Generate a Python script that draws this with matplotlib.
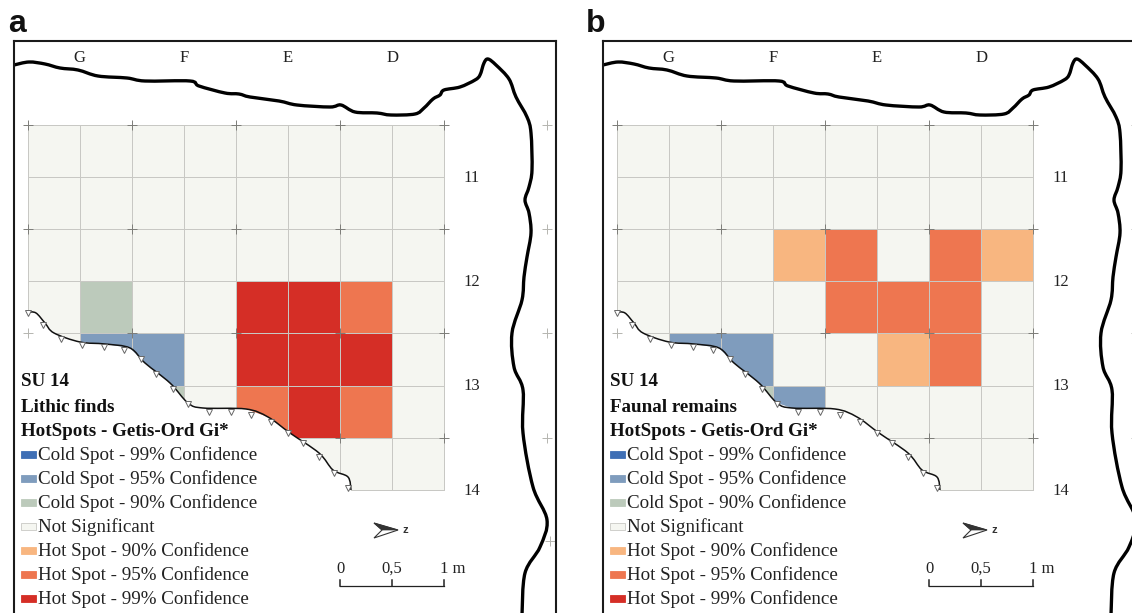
import matplotlib
matplotlib.use('Agg')
import numpy as np
import matplotlib.pyplot as plt
from matplotlib.colors import ListedColormap, BoundaryNorm
from matplotlib.patches import Polygon, Rectangle, PathPatch
from matplotlib.path import Path

# -3..3 : cold 99/95/90, not significant, hot 90/95/99
lithic = [
    [0, 0, 0, 0, 0, 0, 0, 0],
    [0, 0, 0, 0, 0, 0, 0, 0],
    [0, 0, 0, 0, 0, 0, 0, 0],
    [0, -1, 0, 0, 3, 3, 2, 0],
    [0, -2, -2, 0, 3, 3, 3, 0],
    [0, 0, -1, 0, 2, 3, 2, 0],
    [0, 0, 0, 0, 0, 0, 0, 0],
]
faunal = [
    [0, 0, 0, 0, 0, 0, 0, 0],
    [0, 0, 0, 0, 0, 0, 0, 0],
    [0, 0, 0, 1, 2, 0, 2, 1],
    [0, 0, 0, 0, 2, 2, 2, 0],
    [0, -2, -2, 0, 0, 1, 2, 0],
    [0, 0, -1, -2, 0, 0, 0, 0],
    [0, 0, 0, 0, 0, 0, 0, 0],
]
levels = [-3, -2, -1, 0, 1, 2, 3]
level_colors = ['#3f6fb5', '#7f9cbd', '#bccabb', '#f5f6f1', '#f8b680', '#ee7650', '#d52e26']
legend_labels = ['Cold Spot - 99% Confidence', 'Cold Spot - 95% Confidence', 'Cold Spot - 90% Confidence',
                 'Not Significant', 'Hot Spot - 90% Confidence', 'Hot Spot - 95% Confidence',
                 'Hot Spot - 99% Confidence']
col_labels = ['G', 'F', 'E', 'D']
row_labels = ['11', '12', '13', '14']

# outlines (panel px)
wall = [(14, 65), (29, 62), (45, 64), (60, 68), (78, 70), (98, 76), (127, 78), (145, 81), (190, 81), (199, 86),
        (225, 93), (239, 94), (250, 97), (279, 101), (297, 105), (330, 107), (341, 105), (355, 112), (377, 113),
        (391, 115), (415, 114), (424, 108), (433, 99), (440, 95), (444, 90), (460, 87), (475, 80), (480, 75),
        (484, 63), (488, 59), (496, 65), (509, 79), (516, 97), (527, 117), (531, 133), (532, 170), (529, 187),
        (525, 200), (529, 213), (531, 233), (527, 257), (524, 277), (522, 300), (512, 333), (514, 367), (523, 390),
        (523, 433), (533, 487), (547, 520), (540, 547), (525, 573), (522, 615)]
scarp = [(28, 312), (36, 313), (45, 323), (54, 333), (80, 342), (105, 344), (130, 348), (145, 363), (170, 383),
         (188, 403), (203, 408), (246, 409), (268, 417), (290, 433), (319, 453), (333, 470), (348, 477), (351, 490)]
scarp_ticks = [(28, 313), (43, 325), (61, 339), (82, 345), (104, 347), (124, 350), (141, 359), (156, 374),
               (173, 389), (188, 404), (209, 412), (231, 412), (251, 415), (271, 422), (288, 433), (303, 443),
               (319, 457), (334, 473), (348, 488)]

x0, y0, cell = 27.5, 125.0, 52.1
W, H = 1132, 613
SERIF = 'Liberation Serif'
CROSS = dict(marker='+', linestyle='none', ms=7, mew=0.7)


def smooth_path(pts):
    # catmull-rom through the traced points, as bezier segments
    p = np.array(pts, dtype=float)
    p = np.vstack([p[0], p, p[-1]])
    verts = [p[1]]
    codes = [Path.MOVETO]
    for i in range(1, len(p) - 2):
        verts += [p[i] + (p[i + 1] - p[i - 1]) / 6, p[i + 1] - (p[i + 2] - p[i]) / 6, p[i + 1]]
        codes += [Path.CURVE4] * 3
    return Path(verts, codes)


def draw_panel(ax, grid, name):
    ax.set_xlim(14, 556)
    ax.set_ylim(620, 41)
    ax.set_xticks([])
    ax.set_yticks([])
    for s in ax.spines.values():
        s.set_linewidth(1.5)
        s.set_color('#1a1a1a')

    xs = x0 + cell * np.arange(9)
    ys = y0 + cell * np.arange(8)
    cmap = ListedColormap(level_colors)
    norm = BoundaryNorm(np.arange(-3.5, 4.5), cmap.N)
    mesh = ax.pcolormesh(xs, ys, np.array(grid), cmap=cmap, norm=norm, edgecolors='#c8c8c4', linewidth=0.7)
    # grid stops at the scarp
    clip = Polygon(scarp + [(351, 640), (600, 640), (600, 0), (0, 0), (0, 312)], transform=ax.transData)
    mesh.set_clip_path(clip)

    # survey crosses
    cx = xs[::2]
    for yy in ys[::2][:2]:
        ax.plot(cx, [yy] * len(cx), color='#7c7c78', **CROSS)
    ax.plot(cx[1:], [ys[4]] * 4, color='#7c7c78', **CROSS)
    ax.plot(cx[:1], [ys[4]], color='#b5b5b0', **CROSS)
    ax.plot(cx[3:], [ys[6]] * 2, color='#7c7c78', **CROSS)
    ax.plot([547] * 4 + [550], list(ys[::2]) + [541], color='#b5b5b0', **CROSS)

    ax.add_patch(PathPatch(smooth_path(wall), facecolor='none', edgecolor='black', lw=2.4, joinstyle='round'))
    ax.add_patch(PathPatch(smooth_path(scarp), facecolor='none', edgecolor='#111111', lw=1.1))
    ax.plot(*zip(*scarp_ticks), linestyle='none', marker='v', ms=3.8, mfc='white', mec='#666666', mew=0.7)

    for i, lab in enumerate(col_labels):
        ax.text(xs[1] + 2 * i * cell, 58, lab, family=SERIF, fontsize=12, ha='center', va='center', color='#222222')
    for lab, yy in zip(row_labels, ys[[1, 3, 5, 7]]):
        ax.text(471.5, yy + 1, lab, family=SERIF, fontsize=12, ha='center', va='center', color='#222222')

    for yy, txt in zip([381, 407, 431], ['SU 14', name, 'HotSpots - Getis-Ord Gi*']):
        ax.text(21, yy + 1, txt, family=SERIF, fontsize=13.7, weight='bold', va='center', color='#111111')
    for i, (lev, col, lab) in enumerate(zip(levels, level_colors, legend_labels)):
        yy = 454 + i * 24
        ax.add_patch(Rectangle((21, yy - 3.5), 14.5, 7, facecolor=col, edgecolor='#c8c8c4' if lev == 0 else col, lw=0.6))
        ax.text(38, yy + 1.5, lab, family=SERIF, fontsize=13.7, va='center', color='#222222')

    # north arrow
    ax.add_patch(Polygon([(374, 523), (398, 530), (374, 538), (382, 530)], facecolor='white', edgecolor='#333333', lw=0.8))
    ax.add_patch(Polygon([(374, 523), (398, 530), (382, 530)], facecolor='#333333', edgecolor='#333333', lw=0.5))
    ax.text(405, 530, 'z', family='Liberation Sans', fontsize=8, weight='bold', ha='center', va='center', color='#333333')

    # scale bar
    sx = xs[[6, 7, 8]]
    ax.plot(sx[[0, 2]], [586, 586], color='#222222', lw=0.9)
    for xx in sx:
        ax.plot([xx, xx], [580, 586], color='#222222', lw=1.1)
    ax.text(sx[0], 569, '0', family=SERIF, fontsize=12, ha='center', va='center', color='#222222')
    ax.text(sx[1], 569, '0,5', family=SERIF, fontsize=12, ha='center', va='center', color='#222222')
    ax.text(sx[2] - 4, 569, '1 m', family=SERIF, fontsize=12, ha='left', va='center', color='#222222')


fig = plt.figure(figsize=(W / 100, H / 100), dpi=100)
panels = [(14, lithic, 'Lithic finds', 'a', 8), (603, faunal, 'Faunal remains', 'b', 586)]
for left, grid, name, letter, lx in panels:
    ax = fig.add_axes([left / W, (H - 620) / H, 542 / W, 579 / H])
    draw_panel(ax, grid, name)
    fig.text(lx / W, 1 - 24 / H, letter, family='Liberation Sans', weight='bold', fontsize=23,
             ha='left', va='center', color='#111111')

fig.savefig('out.png', dpi=100)
